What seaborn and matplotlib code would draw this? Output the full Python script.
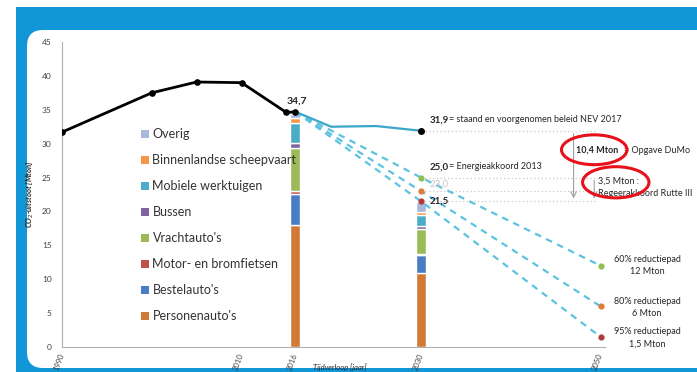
import numpy as np
import pandas as pd
import matplotlib
matplotlib.use('Agg')
import matplotlib.pyplot as plt
import seaborn as sns
from matplotlib.patches import Rectangle, FancyBboxPatch, Ellipse, Patch
from matplotlib.ticker import MultipleLocator

# Historische uitstoot
jaren_hist = [1990, 2000, 2005, 2010, 2015, 2016]
uitstoot_hist = [31.7, 37.5, 39.1, 39.0, 34.6, 34.7]

# NEV 2017 (staand en voorgenomen beleid)
jaren_nev = [2016, 2020, 2025, 2030]
uitstoot_nev = [34.7, 32.5, 32.6, 31.9]

# Reductiepaden
jaren_pad = [2016, 2030, 2050]
pad_60 = [34.7, 25.0, 12.0]
pad_80 = [34.7, 23.0, 6.0]
pad_95 = [34.7, 21.5, 1.5]

# Sectoren (van onder naar boven)
sectoren = ["Personenauto's", "Bestelauto's", "Motor- en bromfietsen", "Vrachtauto's",
            "Bussen", "Mobiele werktuigen", "Binnenlandse scheepvaart", "Overig"]
waarden_2016 = [18.0, 4.5, 0.5, 6.4, 0.7, 2.9, 0.8, 0.6]
waarden_2030 = [10.9, 2.6, 0.2, 3.7, 0.4, 1.7, 0.4, 1.5]
kleuren = ['#D07A35', '#4A7DC4', '#C0504D', '#9BBB59', '#8064A2', '#4BACC6', '#F79646', '#A9B8DC']

xtick_jaren = [1990, 2000, 2010, 2016, 2020, 2030, 2040, 2050]
xtick_labels = ['1990', '', '2010', '2016', '', '2030', '', '2050']

sns.set_style('white')
plt.rcParams['font.family'] = ['Lato', 'DejaVu Sans']

fig = plt.figure(figsize=(6.97, 3.72), dpi=100)
W, H = 6.97, 3.72

# blauwe rand en witte panel
fig.patches.append(Rectangle((16 / 697 * W, 0), W, (365 / 372) * H, transform=fig.dpi_scale_trans,
                             facecolor='#1196D8', edgecolor='none', zorder=-2))
fig.patches.append(FancyBboxPatch((27 / 697 * W, (4 / 372) * H), W, (338 / 372) * H,
                                  boxstyle='round,pad=0,rounding_size=0.16',
                                  transform=fig.dpi_scale_trans, facecolor='white',
                                  edgecolor='none', zorder=-1))

ax = fig.add_axes([62 / 697, 25 / 372, 543 / 697, 305 / 372])
ax.set_facecolor('none')

# gestapelde staven
bodem16, bodem30 = 0, 0
for naam, v16, v30, kl in zip(sectoren, waarden_2016, waarden_2030, kleuren):
    ax.bar(2016, v16, bottom=bodem16, width=1.1, color=kl, zorder=2)
    ax.bar(2030, v30, bottom=bodem30, width=1.1, color=kl, zorder=2)
    bodem16 += v16
    bodem30 += v30

# lijnen
pad_kleur = '#5BC3E0'
for pad in [pad_60, pad_80, pad_95]:
    sns.lineplot(x=jaren_pad, y=pad, ax=ax, color=pad_kleur, linewidth=1.6,
                 linestyle=(0, (3, 2.5)), zorder=3)
sns.lineplot(x=jaren_nev, y=uitstoot_nev, ax=ax, color='#3BA6C8', linewidth=1.6, zorder=4)
sns.lineplot(x=jaren_hist, y=uitstoot_hist, ax=ax, color='black', linewidth=2,
             marker='o', markersize=4, markeredgecolor='black', zorder=5)
ax.scatter([jaren_nev[-1]], [uitstoot_nev[-1]], color='black', s=16, zorder=6)

pad_punt_kleuren = ['#8DC050', '#E07B39', '#B23A3A']
for pad, kl in zip([pad_60, pad_80, pad_95], pad_punt_kleuren):
    ax.scatter(jaren_pad[1:], pad[1:], color=kl, s=12, zorder=6)

# grijze stippellijnen bij 2030
for waarde in [uitstoot_nev[-1], pad_60[1], pad_80[1], pad_95[1]]:
    ax.plot([2030.4, 2049.5], [waarde, waarde], color='#C8C8C8', linestyle=(0, (1, 2)),
            linewidth=0.9, zorder=1)

# pijlen
pijl = dict(arrowstyle='->', color='#A0A0A0', lw=0.8)
ax.annotate('', xy=(2047.0, pad_95[1]), xytext=(2047.0, uitstoot_nev[-1]), arrowprops=pijl)
ax.annotate('', xy=(2049.3, pad_95[1]), xytext=(2049.3, pad_60[1]), arrowprops=pijl)

fs = 7
ax.text(2016.2, 35.6, '34,7', ha='center', va='bottom', fontsize=7.5, fontweight='bold')
ax.text(2031.0, 33.5, '31,9', ha='left', va='center', fontsize=fs, fontweight='bold')
ax.text(2033.1, 33.5, '= staand en voorgenomen beleid NEV 2017', ha='left', va='center', fontsize=6.5)
ax.text(2031.0, 26.6, '25,0', ha='left', va='center', fontsize=fs, fontweight='bold')
ax.text(2033.1, 26.6, '= Energieakkoord 2013', ha='left', va='center', fontsize=6.5)
ax.text(2031.0, 24.0, '23,0', ha='left', va='center', fontsize=fs, color='#C8C8C8')
ax.text(2031.0, 21.5, '21,5', ha='left', va='center', fontsize=fs, fontweight='bold')

ax.text(2047.3, 29.0, '10,4 Mton', ha='left', va='center', fontsize=6.5, fontweight='bold')
ax.text(2052.6, 29.0, '= Opgave DuMo', ha='left', va='center', fontsize=6.5)
ax.text(2049.7, 24.4, '3,5 Mton :', ha='left', va='center', fontsize=6.5)
ax.text(2049.7, 22.6, 'Regeerakkoord Rutte III', ha='left', va='center', fontsize=6.5)
ax.add_patch(Ellipse((2049.3, 29.1), 7.3, 4.4, fill=False, edgecolor='#E8101A', lw=2.2, clip_on=False, zorder=7))
ax.add_patch(Ellipse((2051.7, 24.3), 7.4, 4.6, fill=False, edgecolor='#E8101A', lw=2.2, clip_on=False, zorder=7))

for y, t in [(12.0, '60% reductiepad\n12 Mton'), (5.8, '80% reductiepad\n6 Mton'), (1.4, '95% reductiepad\n1,5 Mton')]:
    ax.text(2055.2, y, t, ha='center', va='center', fontsize=6.5, linespacing=1.5)

# assen
ax.set_xlim(1990, 2050.5)
ax.set_ylim(0, 45)
ax.yaxis.set_major_locator(MultipleLocator(5))
ax.yaxis.set_minor_locator(MultipleLocator(1))
ax.set_xticks(xtick_jaren)
ax.set_xticklabels(xtick_labels, rotation=70, ha='right', va='center', rotation_mode='anchor', fontsize=5.5)
ax.xaxis.set_minor_locator(MultipleLocator(1))
ax.tick_params(axis='both', which='major', length=4, width=0.6, color='#A0A0A0', labelcolor='#404040')
ax.tick_params(axis='both', which='minor', length=2, width=0.5, color='#B0B0B0')
ax.tick_params(axis='x', which='major', pad=1)
ax.tick_params(axis='y', labelsize=6)
for s in ['top', 'right']:
    ax.spines[s].set_visible(False)
for s in ['left', 'bottom']:
    ax.spines[s].set_color('#B0B0B0')
    ax.spines[s].set_linewidth(0.8)

ax.set_ylabel('CO$_2$-uitstoot [Mton]', fontsize=5.5, fontweight='bold', fontstyle='italic', labelpad=4)
ax.set_xlabel('Tijdverloop [jaar]', fontsize=5.5, fontstyle='italic')
ax.xaxis.set_label_coords((340 - 62) / 543, -0.055)

# legenda
handles = [Patch(facecolor=kl, edgecolor='none') for kl in kleuren][::-1]
fig.legend(handles, sectoren[::-1], loc='upper left', bbox_to_anchor=(135 / 697, 1 - 122 / 372),
           frameon=False, fontsize=9, handlelength=0.65, handleheight=0.65, handletextpad=0.25,
           labelspacing=1.12, borderpad=0, labelcolor='#333333')

fig.savefig('out.png', dpi=100)
